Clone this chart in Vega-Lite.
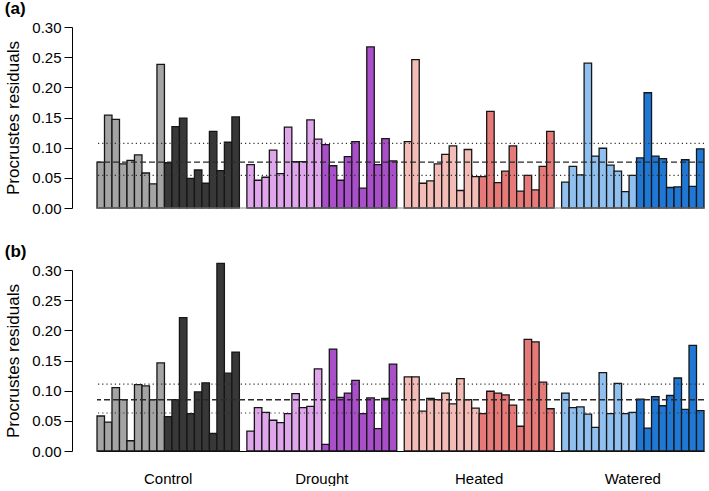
{
"$schema":"https://vega.github.io/schema/vega-lite/v6.json",
"background":"white",
"padding":{"left":4,"top":0,"right":2,"bottom":0},
"spacing":26,
"config":{"font":"Liberation Sans","view":{"stroke":null},
 "axis":{"grid":false,"labelColor":"black","titleColor":"black","tickColor":"black","domainColor":"black","labelFont":"Liberation Sans","titleFont":"Liberation Sans","labelOverlap":false},
 "title":{"font":"Liberation Sans"}},
"datasets":{
"a":[
{"id":"C01","g":"Control A","v":0.076},{"id":"C02","g":"Control A","v":0.154},{"id":"C03","g":"Control A","v":0.147},{"id":"C04","g":"Control A","v":0.073},{"id":"C05","g":"Control A","v":0.079},{"id":"C06","g":"Control A","v":0.088},{"id":"C07","g":"Control A","v":0.058},{"id":"C08","g":"Control A","v":0.040},{"id":"C09","g":"Control A","v":0.238},
{"id":"C10","g":"Control B","v":0.075},{"id":"C11","g":"Control B","v":0.135},{"id":"C12","g":"Control B","v":0.149},{"id":"C13","g":"Control B","v":0.049},{"id":"C14","g":"Control B","v":0.063},{"id":"C15","g":"Control B","v":0.041},{"id":"C16","g":"Control B","v":0.127},{"id":"C17","g":"Control B","v":0.062},{"id":"C18","g":"Control B","v":0.109},{"id":"C19","g":"Control B","v":0.151},
{"id":"D01","g":"Drought A","v":0.072},{"id":"D02","g":"Drought A","v":0.046},{"id":"D03","g":"Drought A","v":0.051},{"id":"D04","g":"Drought A","v":0.096},{"id":"D05","g":"Drought A","v":0.057},{"id":"D06","g":"Drought A","v":0.134},{"id":"D07","g":"Drought A","v":0.077},{"id":"D08","g":"Drought A","v":0.077},{"id":"D09","g":"Drought A","v":0.146},{"id":"D10","g":"Drought A","v":0.114},
{"id":"D11","g":"Drought B","v":0.105},{"id":"D12","g":"Drought B","v":0.070},{"id":"D13","g":"Drought B","v":0.046},{"id":"D14","g":"Drought B","v":0.085},{"id":"D15","g":"Drought B","v":0.110},{"id":"D16","g":"Drought B","v":0.033},{"id":"D17","g":"Drought B","v":0.267},{"id":"D18","g":"Drought B","v":0.072},{"id":"D19","g":"Drought B","v":0.115},{"id":"D20","g":"Drought B","v":0.078},
{"id":"H01","g":"Heated A","v":0.110},{"id":"H02","g":"Heated A","v":0.246},{"id":"H03","g":"Heated A","v":0.041},{"id":"H04","g":"Heated A","v":0.045},{"id":"H05","g":"Heated A","v":0.073},{"id":"H06","g":"Heated A","v":0.089},{"id":"H07","g":"Heated A","v":0.103},{"id":"H08","g":"Heated A","v":0.029},{"id":"H09","g":"Heated A","v":0.097},{"id":"H10","g":"Heated A","v":0.052},
{"id":"H11","g":"Heated B","v":0.052},{"id":"H12","g":"Heated B","v":0.160},{"id":"H13","g":"Heated B","v":0.042},{"id":"H14","g":"Heated B","v":0.061},{"id":"H15","g":"Heated B","v":0.103},{"id":"H16","g":"Heated B","v":0.028},{"id":"H17","g":"Heated B","v":0.054},{"id":"H18","g":"Heated B","v":0.030},{"id":"H19","g":"Heated B","v":0.069},{"id":"H20","g":"Heated B","v":0.127},
{"id":"W01","g":"Watered A","v":0.043},{"id":"W02","g":"Watered A","v":0.069},{"id":"W03","g":"Watered A","v":0.055},{"id":"W04","g":"Watered A","v":0.240},{"id":"W05","g":"Watered A","v":0.086},{"id":"W06","g":"Watered A","v":0.099},{"id":"W07","g":"Watered A","v":0.071},{"id":"W08","g":"Watered A","v":0.061},{"id":"W09","g":"Watered A","v":0.027},{"id":"W10","g":"Watered A","v":0.054},
{"id":"W11","g":"Watered B","v":0.083},{"id":"W12","g":"Watered B","v":0.191},{"id":"W13","g":"Watered B","v":0.086},{"id":"W14","g":"Watered B","v":0.082},{"id":"W15","g":"Watered B","v":0.034},{"id":"W16","g":"Watered B","v":0.035},{"id":"W17","g":"Watered B","v":0.080},{"id":"W18","g":"Watered B","v":0.036},{"id":"W19","g":"Watered B","v":0.098}
],
"b":[
{"id":"C01","g":"Control A","v":0.058},{"id":"C02","g":"Control A","v":0.048},{"id":"C03","g":"Control A","v":0.105},{"id":"C04","g":"Control A","v":0.085},{"id":"C05","g":"Control A","v":0.017},{"id":"C06","g":"Control A","v":0.110},{"id":"C07","g":"Control A","v":0.108},{"id":"C08","g":"Control A","v":0.085},{"id":"C09","g":"Control A","v":0.146},
{"id":"C10","g":"Control B","v":0.057},{"id":"C11","g":"Control B","v":0.085},{"id":"C12","g":"Control B","v":0.221},{"id":"C13","g":"Control B","v":0.062},{"id":"C14","g":"Control B","v":0.098},{"id":"C15","g":"Control B","v":0.113},{"id":"C16","g":"Control B","v":0.029},{"id":"C17","g":"Control B","v":0.311},{"id":"C18","g":"Control B","v":0.129},{"id":"C19","g":"Control B","v":0.164},
{"id":"D01","g":"Drought A","v":0.033},{"id":"D02","g":"Drought A","v":0.072},{"id":"D03","g":"Drought A","v":0.064},{"id":"D04","g":"Drought A","v":0.051},{"id":"D05","g":"Drought A","v":0.047},{"id":"D06","g":"Drought A","v":0.062},{"id":"D07","g":"Drought A","v":0.095},{"id":"D08","g":"Drought A","v":0.072},{"id":"D09","g":"Drought A","v":0.074},{"id":"D10","g":"Drought A","v":0.136},
{"id":"D11","g":"Drought B","v":0.011},{"id":"D12","g":"Drought B","v":0.169},{"id":"D13","g":"Drought B","v":0.089},{"id":"D14","g":"Drought B","v":0.096},{"id":"D15","g":"Drought B","v":0.117},{"id":"D16","g":"Drought B","v":0.062},{"id":"D17","g":"Drought B","v":0.088},{"id":"D18","g":"Drought B","v":0.037},{"id":"D19","g":"Drought B","v":0.087},{"id":"D20","g":"Drought B","v":0.144},
{"id":"H01","g":"Heated A","v":0.123},{"id":"H02","g":"Heated A","v":0.123},{"id":"H03","g":"Heated A","v":0.066},{"id":"H04","g":"Heated A","v":0.087},{"id":"H05","g":"Heated A","v":0.085},{"id":"H06","g":"Heated A","v":0.096},{"id":"H07","g":"Heated A","v":0.078},{"id":"H08","g":"Heated A","v":0.120},{"id":"H09","g":"Heated A","v":0.085},{"id":"H10","g":"Heated A","v":0.071},
{"id":"H11","g":"Heated B","v":0.062},{"id":"H12","g":"Heated B","v":0.099},{"id":"H13","g":"Heated B","v":0.096},{"id":"H14","g":"Heated B","v":0.093},{"id":"H15","g":"Heated B","v":0.076},{"id":"H16","g":"Heated B","v":0.041},{"id":"H17","g":"Heated B","v":0.185},{"id":"H18","g":"Heated B","v":0.181},{"id":"H19","g":"Heated B","v":0.114},{"id":"H20","g":"Heated B","v":0.070},
{"id":"W01","g":"Watered A","v":0.096},{"id":"W02","g":"Watered A","v":0.072},{"id":"W03","g":"Watered A","v":0.073},{"id":"W04","g":"Watered A","v":0.061},{"id":"W05","g":"Watered A","v":0.039},{"id":"W06","g":"Watered A","v":0.130},{"id":"W07","g":"Watered A","v":0.062},{"id":"W08","g":"Watered A","v":0.112},{"id":"W09","g":"Watered A","v":0.062},{"id":"W10","g":"Watered A","v":0.064},
{"id":"W11","g":"Watered B","v":0.086},{"id":"W12","g":"Watered B","v":0.038},{"id":"W13","g":"Watered B","v":0.090},{"id":"W14","g":"Watered B","v":0.075},{"id":"W15","g":"Watered B","v":0.092},{"id":"W16","g":"Watered B","v":0.121},{"id":"W17","g":"Watered B","v":0.069},{"id":"W18","g":"Watered B","v":0.175},{"id":"W19","g":"Watered B","v":0.067}
]},
"vconcat":[
{"width":607,"height":181,
 "title":{"text":"(a)","anchor":"start","frame":"bounds","fontSize":17,"fontWeight":"bold","offset":2,"color":"black"},
 "encoding":{"y":{"field":"v","type":"quantitative","scale":{"domain":[0,0.3],"nice":false},
      "axis":{"values":[0,0.05,0.1,0.15,0.2,0.25,0.3],"format":".2f","offset":25,"tickSize":8,"labelPadding":3,"labelFontSize":15,"labelOverlap":false,"title":"Procrustes residuals","titleFontSize":17,"titleFontWeight":"normal","titlePadding":9}}},
 "layer":[
  {"data":{"name":"a"},
   "mark":{"type":"bar","stroke":"#161616","strokeWidth":1.3,"clip":false},
   "encoding":{
    "x":{"field":"id","type":"nominal","axis":null,"scale":{"paddingInner":0,"paddingOuter":0,"domain":["C01","C02","C03","C04","C05","C06","C07","C08","C09","C10","C11","C12","C13","C14","C15","C16","C17","C18","C19","g1","D01","D02","D03","D04","D05","D06","D07","D08","D09","D10","D11","D12","D13","D14","D15","D16","D17","D18","D19","D20","g2","H01","H02","H03","H04","H05","H06","H07","H08","H09","H10","H11","H12","H13","H14","H15","H16","H17","H18","H19","H20","g3","W01","W02","W03","W04","W05","W06","W07","W08","W09","W10","W11","W12","W13","W14","W15","W16","W17","W18","W19"]}},
    "fill":{"field":"g","type":"nominal","legend":null,"scale":{"domain":["Control A","Control B","Drought A","Drought B","Heated A","Heated B","Watered A","Watered B"],"range":["#a4a4a4","#383838","#dfa6ec","#aa4fca","#f4bcb7","#e67a78","#90c0ef","#1f78d5"]}}}},
  {"data":{"values":[{"v":0}]},"mark":{"type":"rule","color":"#888","strokeWidth":1},"encoding":{}},
  {"data":{"values":[{"s":"q1","v":0.054},{"s":"q3","v":0.107}]},"mark":{"type":"rule","color":"#333","strokeWidth":1.2,"strokeDash":[1.2,3]},"encoding":{}},
  {"data":{"values":[{"s":"median","v":0.076}]},"mark":{"type":"rule","color":"#2a2a2a","strokeWidth":1.4,"strokeDash":[6,3]},"encoding":{}}
 ]},
{"width":607,"height":181,
 "title":{"text":"(b)","anchor":"start","frame":"bounds","fontSize":17,"fontWeight":"bold","offset":2,"color":"black"},
 "encoding":{"y":{"field":"v","type":"quantitative","scale":{"domain":[0,0.3],"nice":false},
      "axis":{"values":[0,0.05,0.1,0.15,0.2,0.25,0.3],"format":".2f","offset":25,"tickSize":8,"labelPadding":3,"labelFontSize":15,"labelOverlap":false,"title":"Procrustes residuals","titleFontSize":17,"titleFontWeight":"normal","titlePadding":9}}},
 "layer":[
  {"data":{"name":"b"},
   "mark":{"type":"bar","stroke":"#161616","strokeWidth":1.3,"clip":false},
   "encoding":{
    "x":{"field":"id","type":"nominal","scale":{"paddingInner":0,"paddingOuter":0,"domain":["C01","C02","C03","C04","C05","C06","C07","C08","C09","C10","C11","C12","C13","C14","C15","C16","C17","C18","C19","g1","D01","D02","D03","D04","D05","D06","D07","D08","D09","D10","D11","D12","D13","D14","D15","D16","D17","D18","D19","D20","g2","H01","H02","H03","H04","H05","H06","H07","H08","H09","H10","H11","H12","H13","H14","H15","H16","H17","H18","H19","H20","g3","W01","W02","W03","W04","W05","W06","W07","W08","W09","W10","W11","W12","W13","W14","W15","W16","W17","W18","W19"]},
      "axis":{"values":["C10","D10","H10","W10"],"ticks":false,"domain":true,"domainWidth":1.2,"labelAngle":0,"labelFontSize":15,"labelPadding":20,"title":null,
        "labelExpr":"datum.value == 'C10' ? 'Control' : datum.value == 'D10' ? 'Drought' : datum.value == 'H10' ? 'Heated' : 'Watered'",
        "labelOffset":{"condition":{"test":"datum.value == 'D10' || datum.value == 'H10'","value":3.75},"value":0}}},
    "fill":{"field":"g","type":"nominal","legend":null,"scale":{"domain":["Control A","Control B","Drought A","Drought B","Heated A","Heated B","Watered A","Watered B"],"range":["#a4a4a4","#383838","#dfa6ec","#aa4fca","#f4bcb7","#e67a78","#90c0ef","#1f78d5"]}}}},
  {"data":{"values":[{"s":"q1","v":0.063},{"s":"q3","v":0.111}]},"mark":{"type":"rule","color":"#333","strokeWidth":1.2,"strokeDash":[1.2,3]},"encoding":{}},
  {"data":{"values":[{"s":"median","v":0.085}]},"mark":{"type":"rule","color":"#2a2a2a","strokeWidth":1.4,"strokeDash":[6,3]},"encoding":{}},
  {"data":{"values":[{"id":"C01"}]},"mark":{"type":"rule","color":"black","strokeWidth":1.2},"encoding":{"x":{"field":"id","type":"nominal","bandPosition":0},"y":{"datum":0,"axis":{"values":[0,0.05,0.1,0.15,0.2,0.25,0.3],"format":".2f","offset":25,"tickSize":8,"labelPadding":3,"labelFontSize":15,"labelOverlap":false,"title":"Procrustes residuals","titleFontSize":17,"titleFontWeight":"normal","titlePadding":9}},"y2":{"datum":-0.0118}}},
  {"data":{"values":[{"id":"g1"},{"id":"g2"},{"id":"g3"}]},"mark":{"type":"rule","color":"black","strokeWidth":1.2},"encoding":{"x":{"field":"id","type":"nominal","bandPosition":0.5},"y":{"datum":0,"axis":{"values":[0,0.05,0.1,0.15,0.2,0.25,0.3],"format":".2f","offset":25,"tickSize":8,"labelPadding":3,"labelFontSize":15,"labelOverlap":false,"title":"Procrustes residuals","titleFontSize":17,"titleFontWeight":"normal","titlePadding":9}},"y2":{"datum":-0.0118}}},
  {"data":{"values":[{"id":"W19"}]},"mark":{"type":"rule","color":"black","strokeWidth":1.2},"encoding":{"x":{"field":"id","type":"nominal","bandPosition":1},"y":{"datum":0,"axis":{"values":[0,0.05,0.1,0.15,0.2,0.25,0.3],"format":".2f","offset":25,"tickSize":8,"labelPadding":3,"labelFontSize":15,"labelOverlap":false,"title":"Procrustes residuals","titleFontSize":17,"titleFontWeight":"normal","titlePadding":9}},"y2":{"datum":-0.0118}}}
 ]}
]}
